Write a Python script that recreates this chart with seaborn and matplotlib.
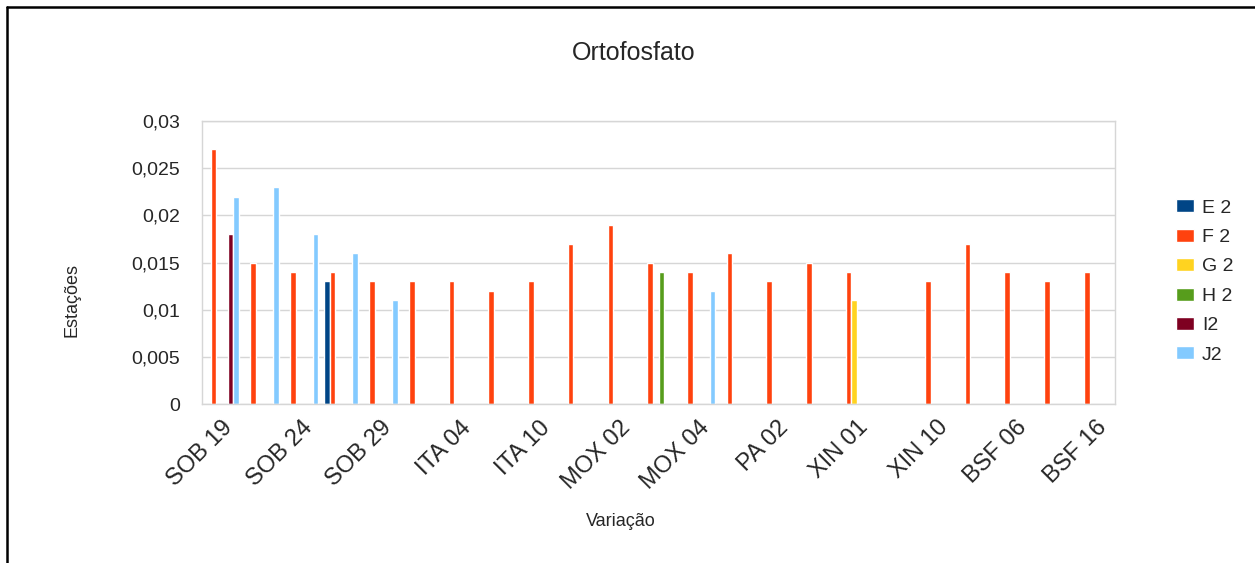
import numpy as np
import pandas as pd
import matplotlib
matplotlib.use("Agg")
import matplotlib.pyplot as plt
import seaborn as sns
from matplotlib.lines import Line2D
from matplotlib.patches import Patch
from matplotlib.ticker import FuncFormatter

# Estações (nur jede zweite wird im Original beschriftet)
estacoes = ["SOB 19", "SOB 22", "SOB 24", "SOB 27", "SOB 29", "ITA 01", "ITA 04",
            "ITA 07", "ITA 10", "ITA 13", "MOX 02", "MOX 03", "MOX 04", "PA 01",
            "PA 02", "PA 04", "XIN 01", "XIN 05", "XIN 10", "BSF 04", "BSF 06",
            "BSF 11", "BSF 16"]
series = ["E 2", "F 2", "G 2", "H 2", "I2", "J2"]
cores = ["#004586", "#ff420e", "#ffd320", "#579d1c", "#7e0021", "#83caff"]

N = None
e2 = [N, N, N, 0.013, N, N, N, N, N, N, N, N, N, N, N, N, N, N, N, N, N, N, N]
f2 = [0.027, 0.015, 0.014, 0.014, 0.013, 0.013, 0.013, 0.012, 0.013, 0.017, 0.019,
      0.015, 0.014, 0.016, 0.013, 0.015, 0.014, N, 0.013, 0.017, 0.014, 0.013, 0.014]
g2 = [N, N, N, N, N, N, N, N, N, N, N, N, N, N, N, N, 0.011, N, N, N, N, N, N]
h2 = [N, N, N, N, N, N, N, N, N, N, N, 0.014, N, N, N, N, N, N, N, N, N, N, N]
i2 = [0.018, N, N, N, N, N, N, N, N, N, N, N, N, N, N, N, N, N, N, N, N, N, N]
j2 = [0.022, 0.023, 0.018, 0.016, 0.011, N, N, N, N, N, N, N, 0.012, N, N, N, N,
      N, N, N, N, N, N]

# Langformat für seaborn aufbauen (fehlende Werte weglassen)
linhas = []
for nome, valores in zip(series, [e2, f2, g2, h2, i2, j2]):
    for est, v in zip(estacoes, valores):
        if v is not None:
            linhas.append((est, nome, v))
df = pd.DataFrame(linhas, columns=["estacao", "serie", "valor"])

sns.set_style("white")
plt.rcParams["font.family"] = ["Liberation Sans", "DejaVu Sans"]

cinza = "#d6d6d6"

fig = plt.figure(figsize=(12.55, 5.63), dpi=100)
ax = fig.add_axes([0.161, 0.2824, 0.7275, 0.5026])

sns.barplot(data=df, x="estacao", y="valor", hue="serie", order=estacoes,
            hue_order=series, palette=cores, width=6 / 7, errorbar=None,
            saturation=1, legend=False, ax=ax)

ax.set_xlim(-0.5, len(estacoes) - 0.5)
ax.set_ylim(0, 0.03)
ax.set_xlabel("")
ax.set_ylabel("")

# Gitter und Rahmen in hellgrau
ax.set_axisbelow(True)
ax.yaxis.grid(True, color=cinza, lw=1)
for sp in ax.spines.values():
    sp.set_color(cinza)
    sp.set_linewidth(1)

# y-Achse mit Dezimalkomma
ax.set_yticks(np.arange(0, 0.0301, 0.005))
ax.yaxis.set_major_formatter(FuncFormatter(lambda v, p: f"{v:g}".replace(".", ",")))
ax.tick_params(axis="y", length=10, color=cinza, labelsize=14, pad=6)

# x-Achse: Beschriftung jeder zweiten Station, Striche an den Grenzen
ax.set_xticks(range(len(estacoes)))
ax.set_xticklabels([e if i % 2 == 0 else "" for i, e in enumerate(estacoes)])
ax.tick_params(axis="x", length=0, labelsize=17, pad=9)
ax.set_xticks(np.arange(-0.5, len(estacoes), 1), minor=True)
ax.tick_params(axis="x", which="minor", length=8, color=cinza)
plt.setp(ax.get_xticklabels(), rotation=45, ha="right", va="top",
         rotation_mode="anchor")

fig.text(0.505, 0.906, "Ortofosfato", ha="center", va="center", fontsize=18)
fig.text(0.057, 0.467, "Estações", ha="center", va="center", rotation=90, fontsize=13)
fig.text(0.495, 0.073, "Variação", ha="center", va="center", fontsize=13)

handles = [Patch(facecolor=c, label=s) for c, s in zip(cores, series)]
fig.legend(handles=handles, loc="center left", bbox_to_anchor=(0.923, 0.5),
           frameon=False, fontsize=14, handlelength=0.95, handleheight=0.65,
           handletextpad=0.4, labelspacing=0.62)

# schwarzer Rand oben und links
fig.add_artist(Line2D([0.0056, 1], [0.9876, 0.9876], transform=fig.transFigure,
                      color="black", lw=1.8))
fig.add_artist(Line2D([0.0056, 0.0056], [0, 0.9876], transform=fig.transFigure,
                      color="black", lw=1.8))

fig.savefig("out.png", dpi=100)
